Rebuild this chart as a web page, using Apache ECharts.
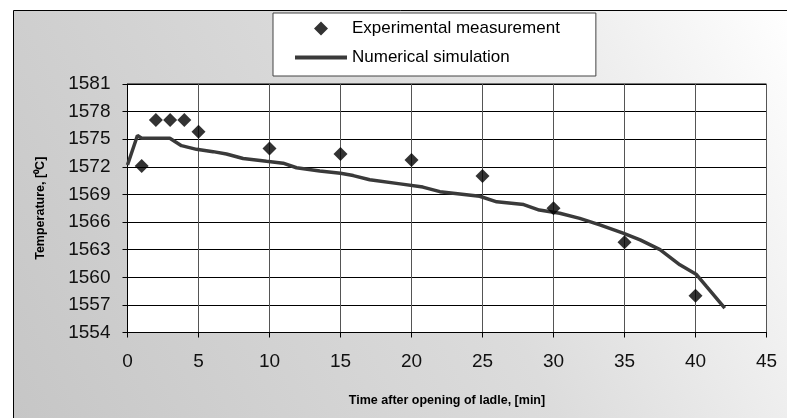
<!DOCTYPE html>
<html>
<head>
<meta charset="utf-8">
<script src="https://cdn.jsdelivr.net/npm/echarts@6/dist/echarts.min.js"></script>
<style>html,body{margin:0;padding:0;background:#fff;}#c{width:787px;height:418px;}</style>
</head>
<body>
<div id="c"></div>
<script>
// Data
const seriesNames = ['Experimental measurement', 'Numerical simulation'];
const expTime = [1, 2, 3, 4, 5, 10, 15, 20, 25, 30, 35, 40];
const expTemp = [1572.1, 1577.1, 1577.1, 1577.1, 1575.8, 1574.0, 1573.4, 1572.75, 1571.0, 1567.5, 1563.8, 1558.0];
const simTime = [0, 0.7, 1, 2, 2.98, 3.8, 4.86, 6.03, 6.97, 8.14, 9.79, 10.96, 11.9, 13.54, 15, 15.9, 17.06, 19.2, 20.8, 22.0, 24.8, 26.0, 27.9, 29.0, 30.44, 31.85, 33.26, 34.9, 36.1, 37.5, 38.9, 40.07, 40.77, 42.06];
const simTemp = [1572.2, 1575.4, 1575.1, 1575.1, 1575.1, 1574.3, 1573.9, 1573.65, 1573.4, 1572.9, 1572.6, 1572.4, 1571.9, 1571.55, 1571.3, 1571.05, 1570.6, 1570.15, 1569.8, 1569.3, 1568.8, 1568.2, 1567.9, 1567.3, 1566.96, 1566.4, 1565.7, 1564.8, 1564.06, 1563.0, 1561.35, 1560.3, 1559.0, 1556.65];
const xMin = 0, xMax = 45, xStep = 5;
const yMin = 1554, yMax = 1581, yStep = 3;
const xTitle = 'Time after opening of ladle, [min]';
const yTitle = 'Temperature, [⁰C]';

const chart = echarts.init(document.getElementById('c'), null, {renderer: 'canvas'});
const FONT = 'Liberation Sans, Arial, sans-serif';
// legend icons: wide bounding boxes so the marks sit like the original
const diamondIcon = 'path://M0,7L0.01,7Z M52,7L51.99,7Z M26,0L33,7L26,14L19,7Z';
const lineIcon = 'path://M0,0L0.01,0Z M0,14L0.01,14Z M0,5L52,5L52,9L0,9Z';
chart.setOption({
  animation: false,
  backgroundColor: '#ffffff',
  textStyle: {fontFamily: FONT},
  graphic: [{
    type: 'rect', z: -100, silent: true,
    shape: {x: 13.5, y: 10.5, width: 820, height: 430},
    style: {
      fill: new echarts.graphic.LinearGradient(0, 0.95, 0.95, 0, [
        {offset: 0, color: '#c6c6c6'},
        {offset: 0.55, color: '#dcdcdc'},
        {offset: 1, color: '#ffffff'}
      ]),
      stroke: '#000', lineWidth: 1
    }
  }],
  legend: {
    left: 273, top: 13,
    orient: 'vertical',
    itemWidth: 52, itemHeight: 14, itemGap: 8,
    padding: [5, 36, 8, 22],
    backgroundColor: '#fff',
    borderColor: '#444', borderWidth: 1,
    symbolKeepAspect: false,
    textStyle: {fontSize: 17, color: '#000', fontFamily: FONT, lineHeight: 21},
    data: [
      {name: seriesNames[0], icon: diamondIcon, itemStyle: {color: '#000', borderWidth: 0}},
      {name: seriesNames[1], icon: lineIcon, itemStyle: {color: '#3a3a3a', borderWidth: 0}}
    ]
  },
  grid: {
    left: 127.5, right: 20.5, top: 84, bottom: 85.5,
    show: true, backgroundColor: '#fff', borderColor: '#000', borderWidth: 1
  },
  xAxis: {
    type: 'value', min: xMin, max: xMax, interval: xStep,
    name: xTitle, nameLocation: 'middle', nameGap: 62,
    nameTextStyle: {fontSize: 12.5, fontWeight: 'bold', color: '#000', fontFamily: FONT, verticalAlign: 'top'},
    axisLine: {lineStyle: {color: '#000', width: 1}},
    axisTick: {show: true, length: 5, lineStyle: {color: '#000'}},
    axisLabel: {fontSize: 19, color: '#111', margin: 20, fontFamily: FONT, formatter: v => String(v)},
    splitLine: {show: true, lineStyle: {color: '#555', width: 1}}
  },
  yAxis: {
    type: 'value', min: yMin, max: yMax, interval: yStep,
    name: yTitle, nameLocation: 'middle', nameGap: 80, nameRotate: 90,
    nameTextStyle: {fontSize: 12.5, fontWeight: 'bold', color: '#000', fontFamily: FONT},
    axisLine: {show: true, lineStyle: {color: '#000', width: 1}},
    axisTick: {show: true, length: 5, lineStyle: {color: '#000'}},
    axisLabel: {fontSize: 19, color: '#111', margin: 17, fontFamily: FONT, formatter: v => String(v)},
    splitLine: {show: true, lineStyle: {color: '#000', width: 1}}
  },
  series: [
    {
      name: seriesNames[0], type: 'scatter',
      symbol: 'diamond', symbolSize: 14,
      itemStyle: {color: '#000'},
      data: expTime.map((t, i) => [t, expTemp[i]]),
      z: 5
    },
    {
      name: seriesNames[1], type: 'line',
      showSymbol: false, symbol: 'none', smooth: false,
      lineStyle: {color: '#3a3a3a', width: 3.5},
      itemStyle: {color: '#3a3a3a'},
      data: simTime.map((t, i) => [t, simTemp[i]]),
      z: 4
    }
  ]
});
</script>
</body>
</html>
